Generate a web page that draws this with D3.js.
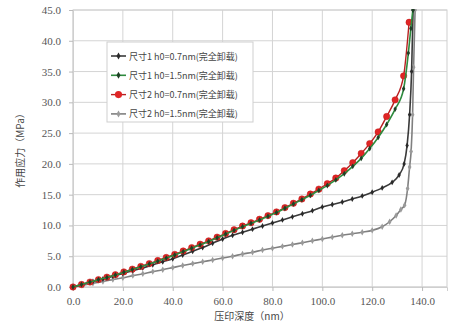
<!DOCTYPE html>
<html><head><meta charset="utf-8">
<script src="https://cdn.jsdelivr.net/npm/d3@7/dist/d3.min.js"></script>
<style>body{margin:0;background:#fff}svg{display:block}</style>
</head><body>
<svg id="c" width="452" height="331"></svg>
<script>
const xTicks = [0,20,40,60,80,100,120,140];
const yTicks = [0,5,10,15,20,25,30,35,40,45];
const seriesNames = ["尺寸1 h0=0.7nm(完全卸载)","尺寸1 h0=1.5nm(完全卸载)","尺寸2 h0=0.7nm(完全卸载)","尺寸2 h0=1.5nm(完全卸载)"];

const depth1 = [0,4,8,12,16,20,24,28,32,36,40,44,48,52,56,60,64,68,72,76,80,84,88,92,96,100,104,108,112,116,120,124,128,130.8,132.8,134,135,135.8,136.4];
const stress1 = [0,0.45,0.9,1.3,1.75,2.2,2.65,3.1,3.6,4.1,4.6,5.2,5.8,6.4,7.1,7.8,8.4,8.9,9.4,9.9,10.4,10.9,11.4,11.9,12.4,13.0,13.4,13.8,14.3,14.8,15.4,16.1,17.0,18.2,20,23,28,35,45];

const depth2 = [0,3.4,6.8,10.2,13.6,17,20.4,23.8,27.2,30.6,34,37.4,40.8,44.2,47.6,51,54.4,57.8,61.2,64.6,68,71.4,74.8,78.2,81.6,85,88.4,91.8,95.2,98.6,102,105.4,108.8,112.2,115.6,119,122.4,125.8,129.2,132.6,134.5,135.5,136.3];
const stress2 = [0,0.4,0.8,1.2,1.55,1.95,2.4,2.85,3.3,3.75,4.2,4.7,5.2,5.75,6.3,6.85,7.4,8.0,8.6,9.2,9.8,10.35,10.9,11.5,12.1,12.8,13.5,14.2,14.9,15.7,16.5,17.4,18.4,19.6,20.9,22.5,24.3,26.4,28.9,32.2,38,42,45];

const depth3 = [0,3.4,6.8,10.2,13.6,17,20.4,23.8,27.2,30.6,34,37.4,40.8,44.2,47.6,51,54.4,57.8,61.2,64.6,68,71.4,74.8,78.2,81.6,85,88.4,91.8,95.2,98.6,102,105.4,108.8,112.2,115.6,119,122.4,125.8,129.2,132.6,134.8];
const stress3 = [0,0.4,0.8,1.2,1.6,2.0,2.45,2.9,3.35,3.8,4.3,4.8,5.3,5.85,6.4,6.95,7.5,8.1,8.7,9.3,9.9,10.45,11.0,11.6,12.2,12.9,13.6,14.3,15.1,15.9,16.8,17.7,18.9,20.2,21.7,23.3,25.2,27.7,30.4,34.3,43];

const depth4 = [0,4,8,12,16,20,24,28,32,36,40,44,48,52,56,60,64,68,72,76,80,84,88,92,96,100,104,108,112,116,120,124,127,129.6,131.5,133,134.2,135,135.6,136.2,136.6,137.2];
const stress4 = [0,0.3,0.6,0.9,1.2,1.5,1.85,2.15,2.5,2.8,3.15,3.5,3.8,4.1,4.4,4.7,5.0,5.35,5.65,6.0,6.3,6.6,6.9,7.2,7.5,7.8,8.1,8.4,8.65,8.9,9.2,9.8,10.6,11.6,12.6,13.3,16,19.5,22,28,35.7,45];

const W=452,H=331;
const m={l:73,r:5,t:10,b:44};
const svg=d3.select("#c");
const x=d3.scaleLinear().domain([0,150]).range([m.l,W-m.r]);
const y=d3.scaleLinear().domain([0,45]).range([H-m.b,m.t]);
const serif="'Liberation Serif','Times New Roman',serif";
const cjk="'Noto Sans CJK SC','Noto Sans CJK JP',sans-serif";

// grid
const g=svg.append("g");
g.selectAll(".gx").data(xTicks).join("line").attr("x1",d=>x(d)).attr("x2",d=>x(d)).attr("y1",y(0)).attr("y2",y(45)).attr("stroke","#d4d4d4");
g.selectAll(".gy").data(yTicks).join("line").attr("y1",d=>y(d)).attr("y2",d=>y(d)).attr("x1",x(0)).attr("x2",x(150)).attr("stroke","#d4d4d4");
svg.append("rect").attr("x",x(0)).attr("y",y(45)).attr("width",x(150)-x(0)).attr("height",y(0)-y(45)).attr("fill","none").attr("stroke","#cfcfcf");

// axes
const xa=svg.append("g").attr("transform",`translate(0,${y(0)})`).call(d3.axisBottom(x).tickValues(xTicks).tickFormat(d3.format(".1f")).tickSize(4).tickPadding(6));
const ya=svg.append("g").attr("transform",`translate(${x(0)},0)`).call(d3.axisLeft(y).tickValues(yTicks).tickFormat(d3.format(".1f")).tickSize(4).tickPadding(8));
[xa,ya].forEach(a=>{a.select(".domain").attr("stroke","#cfcfcf");a.selectAll(".tick line").attr("stroke","#bbb");a.selectAll("text").attr("font-family",serif).attr("font-size",11).attr("fill","#555");});

svg.append("text").attr("x",252).attr("y",320).attr("text-anchor","middle").attr("font-family",cjk).attr("font-size",10).attr("fill","#444").text("压印深度（nm）");
svg.append("text").attr("transform","translate(24,148) rotate(-90)").attr("text-anchor","middle").attr("font-family",cjk).attr("font-size",10).attr("fill","#444").text("作用应力（MPa）");

const series=[
 {d:depth1,v:stress1,line:"#3a3a3a",mk:"diamond",mf:"#2a2a2a",ms:10,lw:1.6},
 {d:depth2,v:stress2,line:"#2e8b3e",mk:"diamond",mf:"#1f3f25",ms:10,lw:1.6},
 {d:depth3,v:stress3,line:"#b82020",mk:"circle",mf:"#e02525",ms:32,lw:1.4},
 {d:depth4,v:stress4,line:"#808080",mk:"diamond",mf:"#9a9a9a",ms:12,lw:1.6}
];
const line=d3.line().x(p=>x(p[0])).y(p=>y(p[1])).curve(d3.curveMonotoneX);
svg.append("clipPath").attr("id","pc").append("rect").attr("x",x(0)-4).attr("y",y(45)-1).attr("width",x(150)-x(0)+8).attr("height",y(0)-y(45)+6);
const pg=svg.append("g").attr("clip-path","url(#pc)");
const order=[3,0,2,1];
order.forEach(i=>{
  const s=series[i];
  const pts=s.d.map((d,j)=>[d,s.v[j]]);
  pg.append("path").attr("d",line(pts)).attr("fill","none").attr("stroke",s.line).attr("stroke-width",s.lw);
  const sym=d3.symbol().type(s.mk==="circle"?d3.symbolCircle:d3.symbolDiamond).size(s.ms);
  pg.selectAll(null).data(pts).join("path").attr("transform",p=>`translate(${x(p[0])},${y(p[1])})`).attr("d",sym).attr("fill",s.mf).attr("stroke",i===2?"#c01818":"none").attr("stroke-width",0.5);
});

// legend
const lg=svg.append("g");
lg.append("rect").attr("x",107).attr("y",42).attr("width",146).attr("height",80).attr("fill","#fff").attr("stroke","#cfcfcf");
series.forEach((s,i)=>{
  const yy=56+i*19.3;
  lg.append("line").attr("x1",111).attr("x2",126).attr("y1",yy).attr("y2",yy).attr("stroke",s.line).attr("stroke-width",s.lw);
  const sym=d3.symbol().type(s.mk==="circle"?d3.symbolCircle:d3.symbolDiamond).size(s.mk==="circle"?40:14);
  lg.append("path").attr("transform",`translate(118.5,${yy})`).attr("d",sym).attr("fill",s.mf);
  lg.append("text").attr("x",129).attr("y",yy+3.5).attr("font-family",cjk).attr("font-size",9).attr("fill","#444").text(seriesNames[i]);
});
</script>
</body></html>
